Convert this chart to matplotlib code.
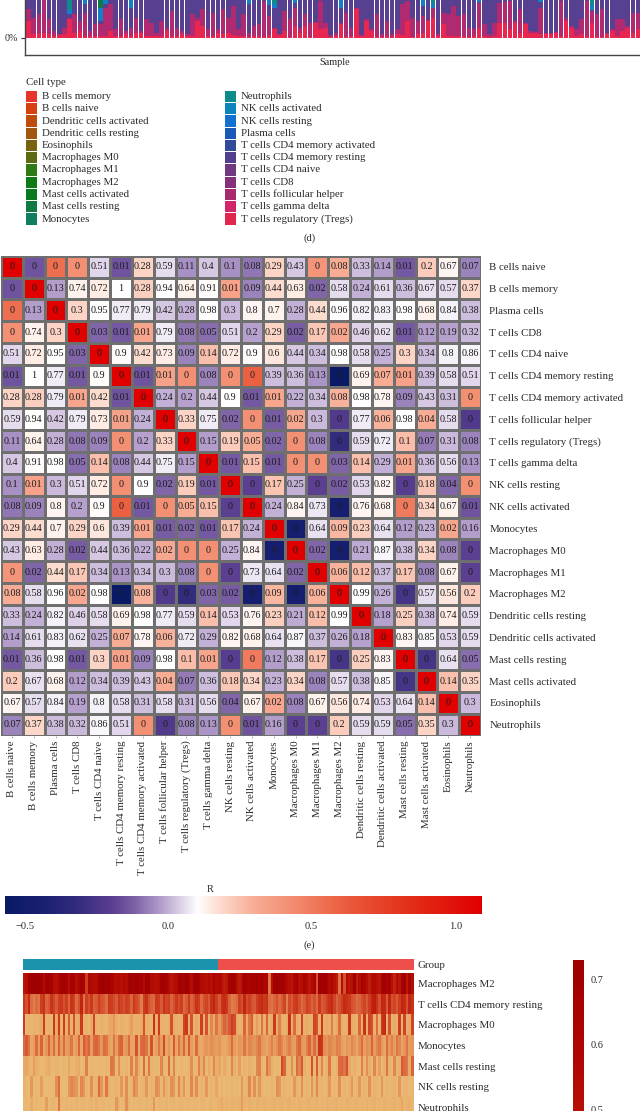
import numpy as np
import matplotlib
matplotlib.use("Agg")
import matplotlib.pyplot as plt
from matplotlib.colors import LinearSegmentedColormap, Normalize
from matplotlib.patches import Rectangle

plt.rcParams["font.family"] = ["Liberation Serif", "DejaVu Serif"]
plt.rcParams["axes.unicode_minus"] = True

W, H = 640, 1111
TEXT_COL = "#2a2a2a"

# ── Panel (d): stacked bars, only the lowest part is on the page ──────────
tregs = [8.7, 1.7, 2.6, 2.6, 1.7, 1.0, 1.4, 2.1, 9.6, 2.6, 3.5, 0.9, 0.9, 0.9, 0.7, 0.7, 3.5, 0.9, 0.9, 1.7,
         0.9, 2.6, 2.6, 0.9, 0.9, 1.0, 0.7, 3.5, 0.7, 0.9, 1.7, 0.9, 0.7, 8.7, 6.1, 0.9, 1.0, 2.6, 1.7, 2.6,
         1.4, 0.9, 0.9, 0.5, 0.9, 0.9, 0.5, 1.4, 4.4, 1.4, 3.5, 0.5, 6.1, 2.6, 6.1, 0.5, 7.8, 4.4, 5.2, 0.5,
         0.9, 7.0, 0.5, 0.9, 14.8, 0.9, 8.7, 3.5, 0.5, 0.5, 0.9, 0.5, 1.7, 1.4, 8.7, 0.5, 1.7, 2.6, 8.7, 10.4,
         0.9, 7.0, 0.9, 0.9, 0.9, 0.9, 0.5, 0.9, 5.2, 0.9, 0.5, 0.9, 7.8, 7.8, 4.4, 7.8, 2.6, 7.0, 2.6, 2.6,
         1.7, 2.1, 2.1, 2.6, 0.9, 8.7, 5.2, 0.9, 1.7, 0.9, 7.8, 0.9, 0.5, 1.7, 3.5, 0.9, 3.5, 5.2, 2.6, 4.4]
t_helper = [6.1, 8.7, 9.6, 17.0, 7.8, 2.4, 0.7, 3.1, 0.9, 9.6, 5.2, 12.2, 2.6, 6.1, 6.3, 15.0, 13.9, 3.5, 8.7, 1.7,
            4.4, 7.8, 0.9, 8.7, 7.0, 1.6, 8.0, 1.7, 13.2, 4.4, 1.7, 0.9, 11.5, 1.7, 8.7, 3.5, 12.0, 1.7, 13.0, 7.8,
            15.1, 3.5, 11.3, 2.1, 5.2, 6.1, 18.6, 9.9, 0.9, 0.3, 10.4, 9.0, 9.6, 2.6, 6.1, 7.3, 0.3, 14.8, 2.6, 0.9,
            1.7, 0.9, 12.5, 4.4, 0.9, 0.5, 0.9, 0.9, 11.7, 1.6, 7.8, 1.2, 2.6, 16.0, 10.4, 9.9, 7.0, 8.7, 0.3, 5.2,
            0.9, 6.1, 11.3, 15.7, 10.4, 11.3, 4.7, 3.5, 13.0, 6.1, 1.2, 7.0, 10.4, 11.0, 14.8, 0.9, 12.2, 0.9, 0.9, 0.2,
            13.9, 0.5, 0.5, 0.5, 18.3, 1.7, 0.9, 3.5, 7.8, 18.3, 6.1, 11.3, 14.3, 0.9, 0.9, 8.7, 6.1, 0.9, 10.4, 8.7]
cd4_resting = [52, 61, 48, 55, 64, 58, 66, 49, 2.0, 57, 60, 4.6, 63, 54, 1.7, 2.0, 51, 62, 59, 47,
               10.4, 56, 65, 50, 58, 61, 53, 67, 48, 60, 55, 63, 52, 57, 49, 62, 54, 66, 51, 59,
               56, 64, 50, 15.1, 58, 53, 47, 5.6, 10.4, 61, 55, 60, 2.4, 65, 52, 57, 63, 49, 54, 66,
               58, 7.8, 51, 62, 48, 60, 56, 64, 53, 59, 50, 61, 47, 55, 52, 63, 58, 5.1, 54, 0.1,
               66, 49, 57, 51, 60, 55, 62, 48, 0.6, 59, 65, 53, 50, 56, 47, 61, 54, 58, 63, 52,
               3.0, 66, 49, 60, 51, 57, 62, 55, 48, 59, 0.7, 53, 50, 64, 58, 52, 61, 56, 49, 54]
nk_bars = [8, 11, 14, 15, 20, 43, 47, 48, 52, 61, 77, 79, 88, 100, 110]
nk_vals = [2.1, 6.0, 7.0, 6.0, 6.0, 6.0, 5.0, 1.7, 6.0, 6.0, 6.0, 2.0, 6.0, 6.0, 2.3]
neut_bars = [8, 48, 79, 110]
neut_vals = [10.0, 8.0, 8.0, 10.0]
mast_bars = [14]
mast_vals = [10.0]

cell_types_left = ["B cells memory", "B cells naive", "Dendritic cells activated", "Dendritic cells resting",
                   "Eosinophils", "Macrophages M0", "Macrophages M1", "Macrophages M2",
                   "Mast cells activated", "Mast cells resting", "Monocytes"]
cell_types_right = ["Neutrophils", "NK cells activated", "NK cells resting", "Plasma cells",
                    "T cells CD4 memory activated", "T cells CD4 memory resting", "T cells CD4 naive",
                    "T cells CD8", "T cells follicular helper", "T cells gamma delta", "T cells regulatory (Tregs)"]
colors_left = ["#E8352B", "#D9400F", "#BF4C0C", "#A0560F", "#77620F", "#5C6B12",
               "#2F7A14", "#0D7A15", "#0A7A22", "#117A42", "#0E7D60"]
colors_right = ["#0D8A8A", "#0E84BE", "#1072CE", "#1A59B5", "#334A9A", "#533F8F",
                "#6F3880", "#87307A", "#A82A6E", "#D32668", "#E0254F"]

# ── Panel (e): correlation heatmap ────────────────────────────────────────
corr_labels = ["B cells naive", "B cells memory", "Plasma cells", "T cells CD8", "T cells CD4 naive",
               "T cells CD4 memory resting", "T cells CD4 memory activated", "T cells follicular helper",
               "T cells regulatory (Tregs)", "T cells gamma delta", "NK cells resting", "NK cells activated",
               "Monocytes", "Macrophages M0", "Macrophages M1", "Macrophages M2", "Dendritic cells resting",
               "Dendritic cells activated", "Mast cells resting", "Mast cells activated", "Eosinophils",
               "Neutrophils"]
p_values = [
    [0, 0, 0, 0, 0.51, 0.01, 0.28, 0.59, 0.11, 0.4, 0.1, 0.08, 0.29, 0.43, 0, 0.08, 0.33, 0.14, 0.01, 0.2, 0.67, 0.07],
    [0, 0, 0.13, 0.74, 0.72, 1, 0.28, 0.94, 0.64, 0.91, 0.01, 0.09, 0.44, 0.63, 0.02, 0.58, 0.24, 0.61, 0.36, 0.67, 0.57, 0.37],
    [0, 0.13, 0, 0.3, 0.95, 0.77, 0.79, 0.42, 0.28, 0.98, 0.3, 0.8, 0.7, 0.28, 0.44, 0.96, 0.82, 0.83, 0.98, 0.68, 0.84, 0.38],
    [0, 0.74, 0.3, 0, 0.03, 0.01, 0.01, 0.79, 0.08, 0.05, 0.51, 0.2, 0.29, 0.02, 0.17, 0.02, 0.46, 0.62, 0.01, 0.12, 0.19, 0.32],
    [0.51, 0.72, 0.95, 0.03, 0, 0.9, 0.42, 0.73, 0.09, 0.14, 0.72, 0.9, 0.6, 0.44, 0.34, 0.98, 0.58, 0.25, 0.3, 0.34, 0.8, 0.86],
    [0.01, 1, 0.77, 0.01, 0.9, 0, 0.01, 0.01, 0, 0.08, 0, 0, 0.39, 0.36, 0.13, 0, 0.69, 0.07, 0.01, 0.39, 0.58, 0.51],
    [0.28, 0.28, 0.79, 0.01, 0.42, 0.01, 0, 0.24, 0.2, 0.44, 0.9, 0.01, 0.01, 0.22, 0.34, 0.08, 0.98, 0.78, 0.09, 0.43, 0.31, 0],
    [0.59, 0.94, 0.42, 0.79, 0.73, 0.01, 0.24, 0, 0.33, 0.75, 0.02, 0, 0.01, 0.02, 0.3, 0, 0.77, 0.06, 0.98, 0.04, 0.58, 0],
    [0.11, 0.64, 0.28, 0.08, 0.09, 0, 0.2, 0.33, 0, 0.15, 0.19, 0.05, 0.02, 0, 0.08, 0, 0.59, 0.72, 0.1, 0.07, 0.31, 0.08],
    [0.4, 0.91, 0.98, 0.05, 0.14, 0.08, 0.44, 0.75, 0.15, 0, 0.01, 0.15, 0.01, 0, 0, 0.03, 0.14, 0.29, 0.01, 0.36, 0.56, 0.13],
    [0.1, 0.01, 0.3, 0.51, 0.72, 0, 0.9, 0.02, 0.19, 0.01, 0, 0, 0.17, 0.25, 0, 0.02, 0.53, 0.82, 0, 0.18, 0.04, 0],
    [0.08, 0.09, 0.8, 0.2, 0.9, 0, 0.01, 0, 0.05, 0.15, 0, 0, 0.24, 0.84, 0.73, 0, 0.76, 0.68, 0, 0.34, 0.67, 0.01],
    [0.29, 0.44, 0.7, 0.29, 0.6, 0.39, 0.01, 0.01, 0.02, 0.01, 0.17, 0.24, 0, 0, 0.64, 0.09, 0.23, 0.64, 0.12, 0.23, 0.02, 0.16],
    [0.43, 0.63, 0.28, 0.02, 0.44, 0.36, 0.22, 0.02, 0, 0, 0.25, 0.84, 0, 0, 0.02, 0, 0.21, 0.87, 0.38, 0.34, 0.08, 0],
    [0, 0.02, 0.44, 0.17, 0.34, 0.13, 0.34, 0.3, 0.08, 0, 0, 0.73, 0.64, 0.02, 0, 0.06, 0.12, 0.37, 0.17, 0.08, 0.67, 0],
    [0.08, 0.58, 0.96, 0.02, 0.98, 0, 0.08, 0, 0, 0.03, 0.02, 0, 0.09, 0, 0.06, 0, 0.99, 0.26, 0, 0.57, 0.56, 0.2],
    [0.33, 0.24, 0.82, 0.46, 0.58, 0.69, 0.98, 0.77, 0.59, 0.14, 0.53, 0.76, 0.23, 0.21, 0.12, 0.99, 0, 0.18, 0.25, 0.38, 0.74, 0.59],
    [0.14, 0.61, 0.83, 0.62, 0.25, 0.07, 0.78, 0.06, 0.72, 0.29, 0.82, 0.68, 0.64, 0.87, 0.37, 0.26, 0.18, 0, 0.83, 0.85, 0.53, 0.59],
    [0.01, 0.36, 0.98, 0.01, 0.3, 0.01, 0.09, 0.98, 0.1, 0.01, 0, 0, 0.12, 0.38, 0.17, 0, 0.25, 0.83, 0, 0, 0.64, 0.05],
    [0.2, 0.67, 0.68, 0.12, 0.34, 0.39, 0.43, 0.04, 0.07, 0.36, 0.18, 0.34, 0.23, 0.34, 0.08, 0.57, 0.38, 0.85, 0, 0, 0.14, 0.35],
    [0.67, 0.57, 0.84, 0.19, 0.8, 0.58, 0.31, 0.58, 0.31, 0.56, 0.04, 0.67, 0.02, 0.08, 0.67, 0.56, 0.74, 0.53, 0.64, 0.14, 0, 0.3],
    [0.07, 0.37, 0.38, 0.32, 0.86, 0.51, 0, 0, 0.08, 0.13, 0, 0.01, 0.16, 0, 0, 0.2, 0.59, 0.59, 0.05, 0.35, 0.3, 0],
]
# upper triangle of R (diagonal left out)
r_upper = [
    [-0.15, 0.55, 0.42, 0.05, -0.15, 0.2, 0.055, -0.05, 0.03, -0.05, -0.09, 0.2, 0.03, 0.4, 0.3, 0.015, -0.03, -0.14, 0.22, 0.12, -0.07],
    [-0.03, 0.13, 0.14, 0.1, 0.21, 0.1, 0.13, 0.11, 0.35, -0.07, 0.18, 0.14, -0.11, 0.055, 0.0, 0.055, 0.015, 0.06, 0.055, 0.19],
    [0.2, 0.1, 0.075, 0.075, 0.03, 0.0, 0.1, 0.01, 0.12, 0.13, 0.0, 0.18, 0.1, 0.08, 0.08, 0.1, 0.13, 0.08, 0.02],
    [-0.11, -0.14, 0.33, 0.075, -0.09, -0.1, 0.05, -0.02, 0.2, -0.13, 0.23, 0.32, 0.04, 0.06, -0.14, -0.03, -0.02, 0.01],
    [0.11, 0.18, 0.14, -0.07, 0.25, 0.14, 0.11, 0.15, 0.03, 0.015, 0.1, 0.055, 0.0, 0.2, 0.015, 0.08, 0.085],
    [-0.15, 0.34, 0.42, -0.07, 0.42, 0.6, 0.02, 0.015, -0.04, -0.57, 0.13, 0.3, 0.35, 0.02, 0.055, 0.05],
    [0.0, -0.02, 0.03, 0.1, -0.14, 0.33, 0.0, 0.015, 0.28, 0.1, 0.12, -0.07, 0.03, 0.015, 0.42],
    [0.2, 0.075, -0.11, 0.42, -0.135, 0.32, 0.01, -0.23, 0.075, 0.28, 0.1, 0.3, 0.055, -0.23],
    [-0.03, 0.22, 0.3, -0.11, 0.42, -0.07, -0.32, 0.055, 0.075, 0.26, -0.08, 0.01, -0.07],
    [-0.14, 0.25, -0.14, 0.42, 0.42, -0.11, 0.25, 0.0, 0.33, 0.015, 0.055, -0.04],
    [-0.2, 0.24, 0.0, -0.2, -0.13, 0.05, 0.12, -0.21, 0.23, -0.11, 0.42],
    [0.0, 0.12, 0.07, -0.47, 0.12, 0.13, 0.5, 0.19, 0.13, -0.15],
    [-0.47, 0.06, 0.27, 0.21, 0.06, -0.03, 0.0, 0.33, -0.03],
    [-0.11, -0.47, -0.01, 0.085, 0.02, 0.2, -0.07, -0.2],
    [0.28, 0.26, 0.02, 0.24, -0.07, 0.13, -0.2],
    [0.1, 0.0, -0.26, 0.055, 0.15, 0.22],
    [-0.02, 0.21, 0.02, 0.14, 0.055],
    [0.12, 0.085, 0.05, 0.055],
    [-0.26, 0.06, -0.1],
    [0.25, 0.2],
    [0.01],
]
r_ticks = [-0.5, 0.0, 0.5, 1.0]
r_tick_labels = ["\u22120.5", "0.0", "0.5", "1.0"]

# ── Lower heatmap (percent of fraction per sample, 78 + 78 samples) ───────
n_group_a = 78
n_group_b = 78
heat_labels = ["Macrophages M2", "T cells CD4 memory resting", "Macrophages M0", "Monocytes",
               "Mast cells resting", "NK cells resting", "Neutrophils"]
m2_row = [48, 52, 68, 70, 72, 70, 71, 70, 55, 68, 70, 66, 52, 50, 58, 68, 70, 64, 50, 68, 66, 52, 60, 68,
          66, 36, 58, 56, 55, 52, 68, 70, 72, 68, 70, 66, 55, 52, 54, 50, 56, 52, 68, 70, 66, 70, 68, 64,
          54, 68, 70, 55, 52, 50, 54, 68, 70, 66, 54, 48, 52, 54, 70, 68, 66, 70, 64, 52, 70, 72, 66, 54,
          52, 50, 56, 50, 62, 54, 58, 50, 46, 48, 66, 70, 68, 50, 46, 56, 70, 66, 62, 68, 66, 70, 64, 68,
          60, 62, 22, 50, 70, 72, 68, 70, 64, 55, 50, 48, 60, 66, 50, 52, 62, 56, 48, 54, 62, 30, 70, 68,
          72, 66, 54, 60, 50, 46, 22, 52, 30, 56, 48, 50, 70, 46, 52, 68, 60, 50, 46, 54, 56, 50, 48, 66,
          70, 62, 68, 50, 44, 54, 48, 68, 70, 48, 66, 52]
cd4_row = [38, 30, 42, 24, 20, 24, 22, 36, 40, 26, 28, 40, 34, 28, 36, 38, 30, 36, 26, 40, 36, 24, 30, 44,
           22, 36, 30, 38, 26, 28, 36, 30, 28, 24, 38, 36, 32, 28, 38, 34, 30, 36, 34, 26, 38, 32, 28, 20,
           36, 40, 30, 26, 24, 38, 36, 28, 40, 34, 36, 26, 30, 38, 32, 36, 24, 28, 38, 26, 30, 40, 36, 24,
           30, 34, 28, 40, 44, 36, 28, 40, 42, 38, 26, 20, 22, 24, 36, 30, 44, 32, 36, 30, 28, 36, 40, 42,
           38, 40, 24, 22, 26, 30, 24, 28, 34, 20, 32, 28, 36, 38, 30, 24, 28, 36, 32, 26, 30, 24, 38, 28,
           30, 36, 40, 42, 34, 26, 30, 36, 42, 40, 38, 30, 28, 24, 26, 30, 34, 28, 36, 44, 46, 40, 30, 44,
           42, 28, 44, 30, 34, 28, 36, 44, 42, 30, 44, 40]
m0_row = [36, 4, 5, 4, 6, 5, 6, 8, 36, 5, 6, 4, 38, 8, 38, 5, 36, 6, 28, 5, 30, 6, 8, 38,
          5, 6, 4, 8, 34, 5, 4, 6, 5, 4, 8, 10, 14, 6, 4, 6, 5, 4, 6, 12, 5, 6, 5, 8,
          30, 6, 5, 4, 40, 6, 38, 6, 5, 5, 6, 30, 8, 6, 5, 6, 34, 38, 6, 30, 5, 8, 5, 36,
          6, 30, 5, 18, 8, 22, 12, 20, 26, 22, 28, 36, 32, 8, 5, 6, 26, 8, 22, 28, 6, 12, 5, 22,
          6, 26, 5, 8, 38, 6, 20, 6, 5, 8, 40, 6, 24, 6, 5, 34, 6, 8, 5, 6, 34, 30, 6, 38, 6, 8,
          6, 20, 5, 8, 24, 6, 5, 6, 38, 8, 6, 5, 26, 6, 40, 6, 34, 30, 6, 24, 5, 38, 42, 6, 30, 5,
          8, 6, 36, 5, 34, 6, 8, 34]
mono_row = [24, 28, 22, 10, 12, 24, 12, 26, 10, 14, 26, 12, 24, 10, 26, 12, 24, 12, 14, 22, 10, 12, 26, 10,
            28, 22, 26, 12, 24, 26, 22, 14, 24, 22, 12, 10, 22, 12, 24, 26, 12, 14, 24, 10, 10, 30, 8, 24,
            26, 22, 10, 30, 8, 12, 22, 12, 32, 10, 14, 8, 28, 10, 22, 12, 26, 10, 28, 12, 8, 24, 10, 8,
            12, 14, 12, 16, 14, 12, 14, 10, 8, 10, 14, 24, 12, 10, 14, 12, 22, 12, 18, 16, 14, 18, 22, 14,
            12, 10, 14, 20, 12, 16, 22, 18, 12, 16, 20, 14, 12, 22, 26, 14, 12, 20, 26, 14, 24, 14, 40, 38,
            16, 14, 18, 16, 14, 20, 18, 12, 10, 14, 12, 18, 14, 10, 16, 24, 12, 16, 14, 26, 12, 18, 22, 14,
            10, 24, 14, 20, 12, 22, 18, 10, 14, 22, 12, 14]
mast_row = [8, 10, 6, 4, 12, 6, 4, 3, 3, 6, 8, 4, 3, 5, 4, 3, 5, 3, 10, 4, 3, 6, 8, 3,
            4, 20, 3, 4, 3, 3, 4, 3, 3, 4, 3, 22, 20, 3, 16, 4, 3, 5, 3, 20, 3, 18, 6, 3,
            24, 3, 22, 5, 3, 4, 3, 18, 4, 3, 24, 3, 18, 3, 3, 4, 3, 3, 5, 16, 3, 4, 20, 6,
            18, 3, 8, 4, 18, 6, 10, 3, 8, 4, 3, 18, 6, 3, 12, 3, 5, 3, 6, 4, 3, 18, 20, 4,
            3, 22, 14, 6, 3, 4, 3, 32, 26, 4, 3, 16, 3, 24, 18, 28, 6, 3, 4, 30, 3, 28, 4, 18,
            3, 5, 22, 4, 3, 6, 24, 26, 22, 30, 10, 3, 6, 4, 3, 20, 4, 16, 6, 3, 18, 4, 12, 3,
            6, 22, 5, 3, 18, 4, 6, 28, 24, 22, 8, 26]
nk_row = [6, 3, 2, 14, 2, 3, 2, 12, 3, 2, 3, 2, 3, 16, 24, 3, 2, 3, 14, 18, 16, 14, 3, 18,
          14, 4, 3, 16, 3, 5, 24, 14, 3, 22, 6, 3, 4, 5, 3, 14, 3, 16, 3, 4, 18, 14, 3, 4,
          5, 14, 3, 5, 3, 16, 14, 3, 14, 5, 3, 16, 14, 3, 18, 5, 14, 3, 3, 18, 4, 16, 3, 5,
          4, 14, 3, 5, 3, 10, 3, 5, 3, 4, 3, 5, 3, 4, 3, 14, 3, 5, 18, 3, 16, 3, 14, 5,
          3, 4, 3, 5, 3, 16, 14, 3, 5, 3, 4, 3, 14, 5, 3, 16, 3, 5, 3, 14, 3, 18, 4, 5,
          3, 5, 14, 3, 4, 3, 16, 3, 5, 3, 5, 14, 3, 4, 14, 3, 5, 3, 16, 3, 5, 4, 3, 14, 3, 5,
          3, 4, 5, 3, 14, 3, 4, 5, 3, 4]
neut_row = [3, 4, 2, 8, 3, 4, 2, 3, 2, 12, 3, 4, 5, 3, 22, 4, 3, 5, 3, 4, 2, 5, 3, 4,
            5, 3, 4, 5, 3, 6, 3, 4, 5, 3, 4, 3, 3, 14, 5, 3, 4, 16, 5, 3, 4, 3, 5, 4,
            3, 5, 3, 4, 14, 3, 5, 4, 3, 5, 3, 4, 5, 3, 4, 5, 3, 4, 5, 3, 5, 4, 3, 4,
            5, 3, 4, 5, 3, 4, 6, 8, 5, 6, 4, 6, 5, 4, 6, 12, 5, 4, 6, 5, 4, 6, 5, 4,
            6, 5, 4, 5, 6, 4, 5, 6, 4, 5, 6, 4, 5, 4, 6, 5, 4, 5, 6, 4, 5, 6, 4, 5,
            4, 6, 5, 4, 5, 6, 4, 5, 4, 6, 5, 4, 5, 6, 4, 5, 4, 6, 4, 5, 6, 4, 5, 4,
            6, 5, 4, 5, 6, 4, 5, 10, 4, 5, 6, 4]
heat_ticks = [0.5, 0.6, 0.7]

fig = plt.figure(figsize=(W / 100, H / 100), dpi=100, facecolor="white")


def px_axes(x0, y0, x1, y1, **kw):
    """Axes from picture pixels (y measured from the top)."""
    return fig.add_axes([x0 / W, 1 - y1 / H, (x1 - x0) / W, (y1 - y0) / H], **kw)


# overlay in pixel coordinates for legend and captions
overlay = px_axes(0, 0, W, H)
overlay.set_xlim(0, W)
overlay.set_ylim(H, 0)
overlay.axis("off")

# ── stacked bars ──────────────────────────────────────────────────────────
ax = px_axes(25, -154.5, 640, 55)
x = np.arange(len(tregs))
tregs_a = np.array(tregs)
helper_a = np.array(t_helper)
rest_a = np.array(cd4_resting)
tops = tregs_a + helper_a + rest_a
bw = 0.87
ax.bar(x, tregs_a, width=bw, color="#E8264F", linewidth=0)
ax.bar(x, helper_a, bottom=tregs_a, width=bw, color="#B02A72", linewidth=0)
ax.bar(x, rest_a, bottom=tregs_a + helper_a, width=bw, color="#56408F", linewidth=0)
ax.bar(nk_bars, nk_vals, bottom=tops[nk_bars], width=bw, color="#1080C8", linewidth=0)
nk_top = dict(zip(nk_bars, tops[nk_bars] + np.array(nk_vals)))
ax.bar(neut_bars, neut_vals, bottom=[nk_top[b] for b in neut_bars], width=bw, color="#0D8A8A", linewidth=0)
ax.bar(mast_bars, mast_vals, bottom=[nk_top[b] for b in mast_bars], width=bw, color="#117A42", linewidth=0)
ax.set_xlim(-0.7, 119.4)
ax.set_ylim(-9, 100)
ax.set_yticks([0])
ax.set_yticklabels(["0%"], fontsize=7.2, color=TEXT_COL)
ax.set_xticks([])
ax.tick_params(axis="y", length=3, width=0.8, pad=2, color="#333333")
ax.spines["top"].set_visible(False)
ax.spines["right"].set_visible(False)
for side in ("left", "bottom"):
    ax.spines[side].set_linewidth(1.0)
    ax.spines[side].set_color("#444444")
ax.patch.set_alpha(0)

overlay.text(335, 62.5, "Sample", fontsize=7.4, ha="center", va="center", color=TEXT_COL)
overlay.text(26, 82.5, "Cell type", fontsize=7.8, ha="left", va="center", color=TEXT_COL)
for col_x, names, cols in ((26, cell_types_left, colors_left), (225, cell_types_right, colors_right)):
    for i, (name, col) in enumerate(zip(names, cols)):
        yc = 96.5 + i * 12.25
        overlay.add_patch(Rectangle((col_x, yc - 5.7), 11, 11.4, facecolor=col, edgecolor="none"))
        overlay.text(col_x + 16, yc, name, fontsize=7.8, ha="left", va="center", color=TEXT_COL)
overlay.text(310, 238, "(d)", fontsize=7.6, ha="center", va="center", color=TEXT_COL)
overlay.text(309, 945, "(e)", fontsize=7.6, ha="center", va="center", color=TEXT_COL)

# ── correlation matrix ────────────────────────────────────────────────────
r_cmap = LinearSegmentedColormap.from_list(
    "r_cmap",
    [(0.0, "#0A1A66"), (0.08, "#1B2072"), (0.15, "#332B7C"), (0.223, "#5B3F91"), (0.27, "#7C60A6"),
     (0.33, "#B7A2CE"), (0.37, "#DFD3E9"), (0.403, "#FFFFFF"), (0.44, "#FDE3D8"), (0.52, "#F8AE97"),
     (0.60, "#F38E72"), (0.72, "#EB5A3C"), (0.85, "#E32F18"), (1.0, "#E00000")],
)
r_norm = Normalize(-0.57, 1.09)

n = len(corr_labels)
r_mat = np.full((n, n), 1.09)
for i, vals in enumerate(r_upper):
    for k, v in enumerate(vals):
        r_mat[i, i + 1 + k] = v
        r_mat[i + 1 + k, i] = v

ax2 = px_axes(1, 255.7, 481, 735.7)
ax2.pcolormesh(r_mat, cmap=r_cmap, norm=r_norm, edgecolors="#6f6f6f", linewidth=0.9)
ax2.set_xlim(0, n)
ax2.set_ylim(n, 0)
for i in range(n):
    for j in range(n):
        ax2.text(j + 0.5, i + 0.5, f"{p_values[i][j]:g}", fontsize=7.3, ha="center", va="center", color="#1c1c1c")
ax2.set_xticks(np.arange(n) + 0.5)
ax2.set_xticklabels(corr_labels, rotation=90, fontsize=7.8, color=TEXT_COL)
ax2.xaxis.tick_bottom()
ax2.yaxis.tick_right()
ax2.set_yticks(np.arange(n) + 0.5)
ax2.set_yticklabels(corr_labels, fontsize=7.8, color=TEXT_COL)
ax2.tick_params(axis="x", length=1.5, width=0.4, pad=2, color="#777777")
ax2.tick_params(axis="y", length=0, pad=6)
for s in ax2.spines.values():
    s.set_visible(False)

# colour bar for R
cb = px_axes(4.5, 896, 481, 914)
grid = np.linspace(-0.57, 1.09, 256).reshape(1, -1)
cb.imshow(grid, aspect="auto", cmap=r_cmap, norm=r_norm, extent=(-0.57, 1.09, 0, 1))
cb.set_yticks([])
cb.set_xticks(r_ticks)
cb.set_xticklabels(r_tick_labels, fontsize=7.6, color=TEXT_COL)
cb.tick_params(axis="x", length=0, pad=6)
for s in cb.spines.values():
    s.set_visible(False)
overlay.text(210, 889, "R", fontsize=7.4, ha="center", va="center", color=TEXT_COL)

# ── lower heatmap ─────────────────────────────────────────────────────────
heat_cmap = LinearSegmentedColormap.from_list(
    "heat_cmap",
    [(0.0, "#EABF78"), (0.1 / 0.73, "#E8A563"), (0.2 / 0.73, "#E07F4C"), (0.3 / 0.73, "#D5502F"),
     (0.4 / 0.73, "#C83218"), (0.5 / 0.73, "#B61005"), (0.6 / 0.73, "#AD0502"), (1.0, "#9E0000")],
)
heat_norm = Normalize(0, 0.73)
heat = np.array([m2_row, cd4_row, m0_row, mono_row, mast_row, nk_row, neut_row]) / 100

ax_group = px_axes(22.5, 958.7, 413.5, 970)
groups = np.array([[0] * n_group_a + [1] * n_group_b])
ax_group.pcolormesh(groups, cmap=LinearSegmentedColormap.from_list("grp", ["#1B93AD", "#EF4F4B"]))
ax_group.set_xticks([])
ax_group.set_yticks([0.5])
ax_group.set_yticklabels(["Group"], fontsize=7.8, color=TEXT_COL)
ax_group.yaxis.tick_right()
ax_group.tick_params(axis="y", length=0, pad=3)
for s in ax_group.spines.values():
    s.set_visible(False)

ax3 = px_axes(22.5, 973.3, 413.5, 1117.5)
ax3.pcolormesh(heat, cmap=heat_cmap, norm=heat_norm)
ax3.set_ylim(len(heat_labels), 0)
ax3.set_xticks([])
ax3.yaxis.tick_right()
ax3.set_yticks(np.arange(len(heat_labels)) + 0.5)
ax3.set_yticklabels(heat_labels, fontsize=7.8, color=TEXT_COL)
ax3.tick_params(axis="y", length=0, pad=3)
for s in ax3.spines.values():
    s.set_visible(False)

# stepped legend bar runs off the bottom of the page
ax_cb3 = px_axes(572.6, 960, 583.7, 960 + 0.73 * 650)
levels = np.linspace(0, 0.73, 51)
ax_cb3.pcolormesh([0, 1], levels, ((levels[:-1] + levels[1:]) / 2).reshape(-1, 1), cmap=heat_cmap, norm=heat_norm)
ax_cb3.set_ylim(0, 0.73)
ax_cb3.set_xticks([])
ax_cb3.yaxis.tick_right()
ax_cb3.set_yticks(heat_ticks)
ax_cb3.set_yticklabels([f"{t:.1f}" for t in heat_ticks], fontsize=7.4, color=TEXT_COL)
ax_cb3.tick_params(axis="y", length=0, pad=5)
for s in ax_cb3.spines.values():
    s.set_visible(False)

overlay.set_zorder(5)
fig.savefig("out.png", dpi=100)
